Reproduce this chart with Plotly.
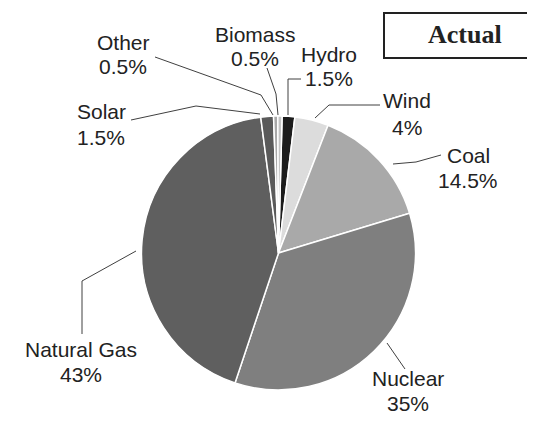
import plotly.graph_objects as go

# Generation mix (percent), clockwise from the top
sources = ['Hydro', 'Wind', 'Coal', 'Nuclear', 'Natural Gas', 'Solar', 'Other', 'Biomass']
shares = [1.5, 4, 14.5, 35, 43, 1.5, 0.5, 0.5]
colors = ['#1c1c1c', '#dcdcdc', '#a9a9a9', '#7f7f7f', '#5f5f5f', '#5a5a5a', '#a8a8a8', '#c4c4c4']

W, H = 535, 424

# Label placement in pixels (name line centre, percent line centre)
label_pos = {
    'Hydro': (321, 46, 70),
    'Wind': (399, 92, 119),
    'Coal': (460, 147, 173),
    'Nuclear': (400, 370, 395),
    'Natural Gas': (73, 341, 366),
    'Solar': (93, 104, 129),
    'Other': (115, 35, 59),
    'Biomass': (247, 26, 51),
}

# Leader lines in pixels
leaders = {
    'Hydro': [(280, 107), (280, 71), (293, 71)],
    'Wind': [(307, 110), (321, 97), (372, 97)],
    'Coal': [(385, 156), (408, 154), (433, 147)],
    'Nuclear': [(379, 335), (397, 361)],
    'Natural Gas': [(128, 243), (74, 273), (74, 326)],
    'Solar': [(252, 106), (188, 98), (123, 112)],
    'Other': [(265, 107), (253, 87), (147, 49)],
    'Biomass': [(270, 107), (268, 86), (259, 60)],
}


def px_x(x):
    return x / W


def px_y(y):
    return 1 - y / H


cx, cy, r = 270.5, 245, 137

fig = go.Figure(
    go.Pie(
        labels=sources,
        values=shares,
        sort=False,
        direction='clockwise',
        rotation=1.5,
        textinfo='none',
        hoverinfo='label+percent',
        marker=dict(colors=colors, line=dict(color='white', width=1.5)),
        domain=dict(x=[px_x(cx - r), px_x(cx + r)], y=[px_y(cy + r), px_y(cy - r)]),
        showlegend=False,
    )
)

# Category labels with leader lines
annotations = []
shapes = []
label_font = dict(family='Liberation Sans, Arial, sans-serif', size=21, color='#222222')
for name, share in zip(sources, shares):
    x, y1, y2 = label_pos[name]
    for text, y in [(name, y1), (f'{share:g}%', y2)]:
        annotations.append(dict(
            x=px_x(x), y=px_y(y), xref='paper', yref='paper',
            text=text, showarrow=False, font=label_font,
            xanchor='center', yanchor='middle',
        ))
    pts = leaders[name]
    path = 'M ' + ' L '.join(f'{px_x(a)} {px_y(b)}' for a, b in pts)
    shapes.append(dict(type='path', path=path, xref='paper', yref='paper',
                       line=dict(color='#404040', width=1)))

# "Actual" box
shapes.append(dict(type='rect', xref='paper', yref='paper',
                   x0=px_x(376), x1=px_x(533), y0=px_y(50), y1=px_y(5),
                   line=dict(color='#222222', width=2)))
annotations.append(dict(
    x=px_x(457), y=px_y(27), xref='paper', yref='paper',
    text='<b>Actual</b>', showarrow=False,
    font=dict(family='Liberation Serif, Times New Roman, serif', size=26, color='#222222'),
    xanchor='center', yanchor='middle',
))

fig.update_layout(
    width=W, height=H,
    margin=dict(l=0, r=0, t=0, b=0),
    paper_bgcolor='white',
    plot_bgcolor='white',
    annotations=annotations,
    shapes=shapes,
)

fig.write_html("out.html")
